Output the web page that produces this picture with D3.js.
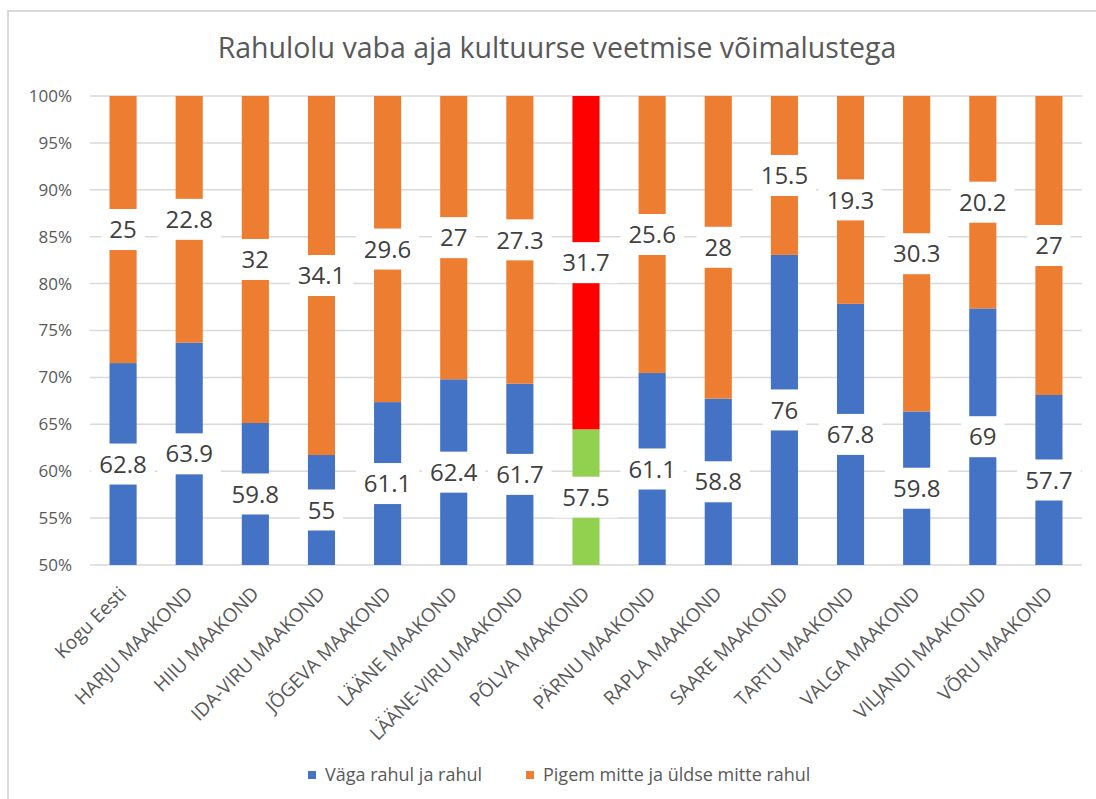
<!DOCTYPE html>
<html>
<head>
<meta charset="utf-8">
<script src="https://cdn.jsdelivr.net/npm/d3@7"></script>
<style>
  body { margin: 0; background: #fff; }
  svg { font-family: "Open Sans", sans-serif; }
</style>
</head>
<body>
<svg id="chart" width="1096" height="799"></svg>
<script>
// Values
let counties = ['Kogu Eesti', 'HARJU MAAKOND', 'HIIU MAAKOND', 'IDA-VIRU MAAKOND', 'JÕGEVA MAAKOND',
  'LÄÄNE MAAKOND', 'LÄÄNE-VIRU MAAKOND', 'PÕLVA MAAKOND', 'PÄRNU MAAKOND', 'RAPLA MAAKOND',
  'SAARE MAAKOND', 'TARTU MAAKOND', 'VALGA MAAKOND', 'VILJANDI MAAKOND', 'VÕRU MAAKOND'];
let satisfied = [62.8, 63.9, 59.8, 55, 61.1, 62.4, 61.7, 57.5, 61.1, 58.8, 76, 67.8, 59.8, 69, 57.7];
let dissatisfied = [25, 22.8, 32, 34.1, 29.6, 27, 27.3, 31.7, 25.6, 28, 15.5, 19.3, 30.3, 20.2, 27];
let seriesNames = ['Väga rahul ja rahul', 'Pigem mitte ja üldse mitte rahul'];
let yTicks = [0.5, 0.55, 0.6, 0.65, 0.7, 0.75, 0.8, 0.85, 0.9, 0.95, 1];
let highlight = 'PÕLVA MAAKOND';

let colors = ['#4472C4', '#ED7D31'];
let highlightColors = ['#92D050', '#FF0000'];

let margin = {top: 96, left: 90},
  width = 992,
  height = 469;

let svg = d3.select('#chart');

// outer frame
svg.append('rect')
  .attr('x', 8).attr('y', 11)
  .attr('width', 1100).attr('height', 800)
  .attr('fill', 'none')
  .attr('stroke', '#d9d9d9')
  .attr('stroke-width', 2);

svg.append('text')
  .attr('x', 557).attr('y', 58)
  .attr('text-anchor', 'middle')
  .attr('font-size', 28.5)
  .attr('fill', '#595959')
  .text('Rahulolu vaba aja kultuurse veetmise võimalustega');

let g = svg.append('g')
  .attr('transform', 'translate(' + margin.left + ',' + margin.top + ')');

let rows = counties.map((c, i) => ({county: c, s0: satisfied[i], s1: dissatisfied[i]}));

let stack = d3.stack()
  .keys(['s0', 's1'])
  .offset(d3.stackOffsetExpand);
let series = stack(rows);

let x = d3.scaleBand()
  .domain(counties)
  .range([0, width])
  .paddingInner(0.59)
  .paddingOuter(0.295);

let y = d3.scaleLinear()
  .domain([0.5, 1])
  .range([height, 0]);

// gridlines
g.append('g')
  .selectAll('line')
  .data(yTicks)
  .enter().append('line')
  .attr('x1', 0).attr('x2', width)
  .attr('y1', (d) => y(d)).attr('y2', (d) => y(d))
  .attr('stroke', '#d9d9d9')
  .attr('stroke-width', 1.5);

// y axis labels
let yAxis = g.append('g')
  .call(d3.axisLeft(y).tickValues(yTicks).tickFormat(d3.format('.0%')).tickSize(0).tickPadding(18));
yAxis.select('.domain').remove();
yAxis.selectAll('text')
  .attr('font-size', 17)
  .attr('fill', '#595959')
  .attr('font-family', '"Open Sans", sans-serif');

// bars
series.forEach((s, si) => {
  g.append('g')
    .selectAll('rect')
    .data(s)
    .enter().append('rect')
    .attr('x', (d) => x(d.data.county))
    .attr('y', (d) => y(d[1]))
    .attr('width', x.bandwidth())
    .attr('height', (d) => y(Math.max(d[0], 0.5)) - y(d[1]))
    .attr('fill', (d) => d.data.county === highlight ? highlightColors[si] : colors[si]);
});

// x axis labels
let xAxis = g.append('g')
  .attr('transform', 'translate(0,' + height + ')')
  .call(d3.axisBottom(x).tickSize(0).tickPadding(0));
xAxis.select('.domain').remove();
xAxis.selectAll('text')
  .attr('font-size', 19)
  .attr('fill', '#595959')
  .attr('font-family', '"Open Sans", sans-serif')
  .attr('text-anchor', 'end')
  .attr('dy', '0.35em')
  .attr('transform', 'translate(0,25) rotate(-45)');

// data labels with white boxes
series.forEach((s, si) => {
  let vals = si === 0 ? satisfied : dissatisfied;
  let lbl = g.append('g')
    .selectAll('g')
    .data(s)
    .enter().append('g')
    .attr('transform', (d) => {
      let mid = (y(Math.max(d[0], 0.5)) + y(d[1])) / 2;
      return 'translate(' + (x(d.data.county) + x.bandwidth() / 2) + ',' + mid + ')';
    });
  lbl.append('text')
    .attr('text-anchor', 'middle')
    .attr('dy', '0.36em')
    .attr('font-size', 24)
    .attr('fill', '#404040')
    .text((d, i) => vals[i]);
  lbl.each(function () {
    let t = d3.select(this).select('text');
    let w = t.node().getComputedTextLength();
    d3.select(this).insert('rect', 'text')
      .attr('x', -w / 2 - 8)
      .attr('y', -20.5)
      .attr('width', w + 16)
      .attr('height', 41)
      .attr('fill', '#fff');
  });
});

// legend
let legend = svg.append('g')
  .attr('transform', 'translate(308,775)');
let legendX = [0, 218];
seriesNames.forEach((name, i) => {
  let item = legend.append('g').attr('transform', 'translate(' + legendX[i] + ',0)');
  item.append('rect')
    .attr('x', 0).attr('y', -4)
    .attr('width', 8).attr('height', 8)
    .attr('fill', colors[i]);
  item.append('text')
    .attr('x', 17)
    .attr('dy', '0.35em')
    .attr('font-size', 18)
    .attr('fill', '#595959')
    .text(name);
});
</script>
</body>
</html>
